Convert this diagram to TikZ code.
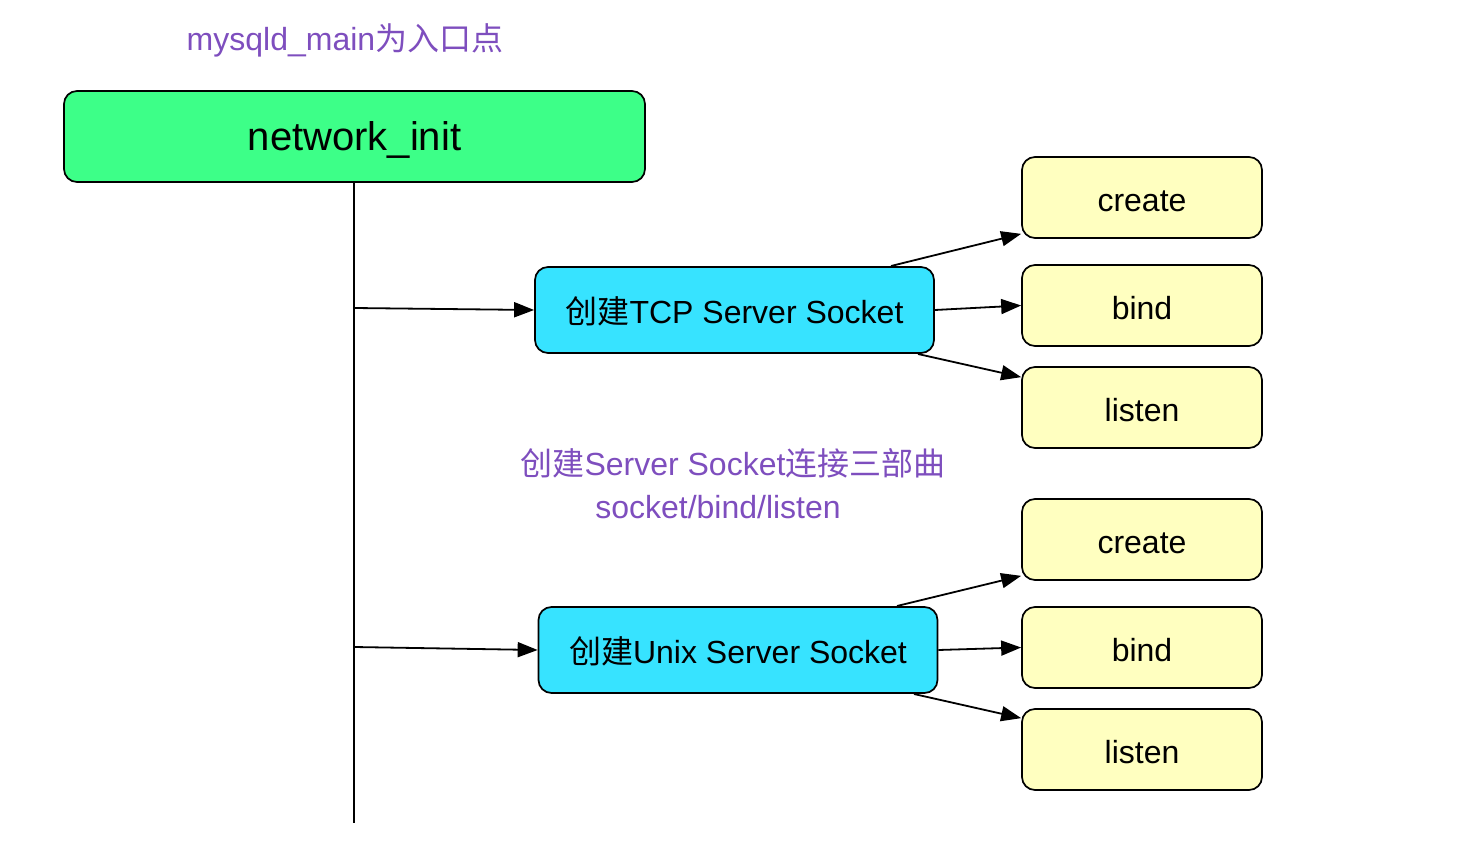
\documentclass[tikz,border=0pt]{standalone}
\usepackage{fontspec}
\setmainfont{Liberation Sans}
\newfontfamily\cjk{Noto Sans CJK SC}
\usetikzlibrary{arrows.meta}
\definecolor{gbox}{HTML}{3DFF88}
\definecolor{cbox}{HTML}{37E3FF}
\definecolor{ybox}{HTML}{FFFFC0}
\definecolor{ptext}{HTML}{7E4EBE}
\tikzset{
  box/.style={draw=black, line width=1.7pt, rounded corners=13pt, inner sep=0pt},
  topbox/.style={box, fill=gbox, minimum width=581pt, minimum height=91pt, font=\fontsize{40}{46}\selectfont, text height=38pt, text depth=10pt},
  midbox/.style={box, fill=cbox, minimum width=399pt, minimum height=86pt, font=\fontsize{32}{38}\selectfont, text height=32pt, text depth=5pt},
  leafbox/.style={box, fill=ybox, minimum width=240pt, minimum height=81pt, font=\fontsize{32}{38}\selectfont, text height=32pt, text depth=4pt},
  note/.style={text=ptext, font=\fontsize{32}{40}\selectfont, inner sep=0pt},
  conn/.style={line width=1.8pt, -{Triangle[length=20pt,width=15pt]}},
  plain/.style={line width=1.8pt}
}
\begin{document}
\begin{tikzpicture}[x=1pt,y=-1pt]
\useasboundingbox (0,0) rectangle (1462,842);
\node[note] (entry) at (345,40) {mysqld\_main{\cjk 为入口点}};
\node[topbox] (ni) at (354.5,136.5) {network\_init};
\node[midbox] (tcp) at (734.5,310) {{\cjk 创建}TCP Server Socket};
\node[midbox] (unix) at (738,650) {{\cjk 创建}Unix Server Socket};
\node[leafbox] (c1) at (1142,197.5) {create};
\node[leafbox] (b1) at (1142,305.5) {bind};
\node[leafbox] (l1) at (1142,407.5) {listen};
\node[leafbox] (c2) at (1142,539.5) {create};
\node[leafbox] (b2) at (1142,647.5) {bind};
\node[leafbox] (l2) at (1142,749.5) {listen};
\node[note] (mid1) at (733,463) {{\cjk 创建}Server Socket{\cjk 连接三部曲}};
\node[note] (mid2) at (718,507) {socket/bind/listen};
\coordinate (bot) at (354,823);
\coordinate (j1) at (354,308);
\coordinate (j2) at (354,647);
\coordinate (s1) at (891,266);
\coordinate (s2) at (918,354);
\coordinate (s3) at (897,606);
\coordinate (s4) at (914,694);
\draw[plain] (ni.south -| bot) -- (bot);
\draw[conn] (j1) -- (tcp.west);
\draw[conn] (j2) -- (unix.west);
\draw[conn] (s1) -- ([yshift=5pt]c1.south west);
\draw[conn] (tcp.east) -- (b1.west);
\draw[conn] (s2) -- ([yshift=-11pt]l1.north west);
\draw[conn] (s3) -- ([yshift=5pt]c2.south west);
\draw[conn] (unix.east) -- (b2.west);
\draw[conn] (s4) -- ([yshift=-10pt]l2.north west);
\end{tikzpicture}
\end{document}
